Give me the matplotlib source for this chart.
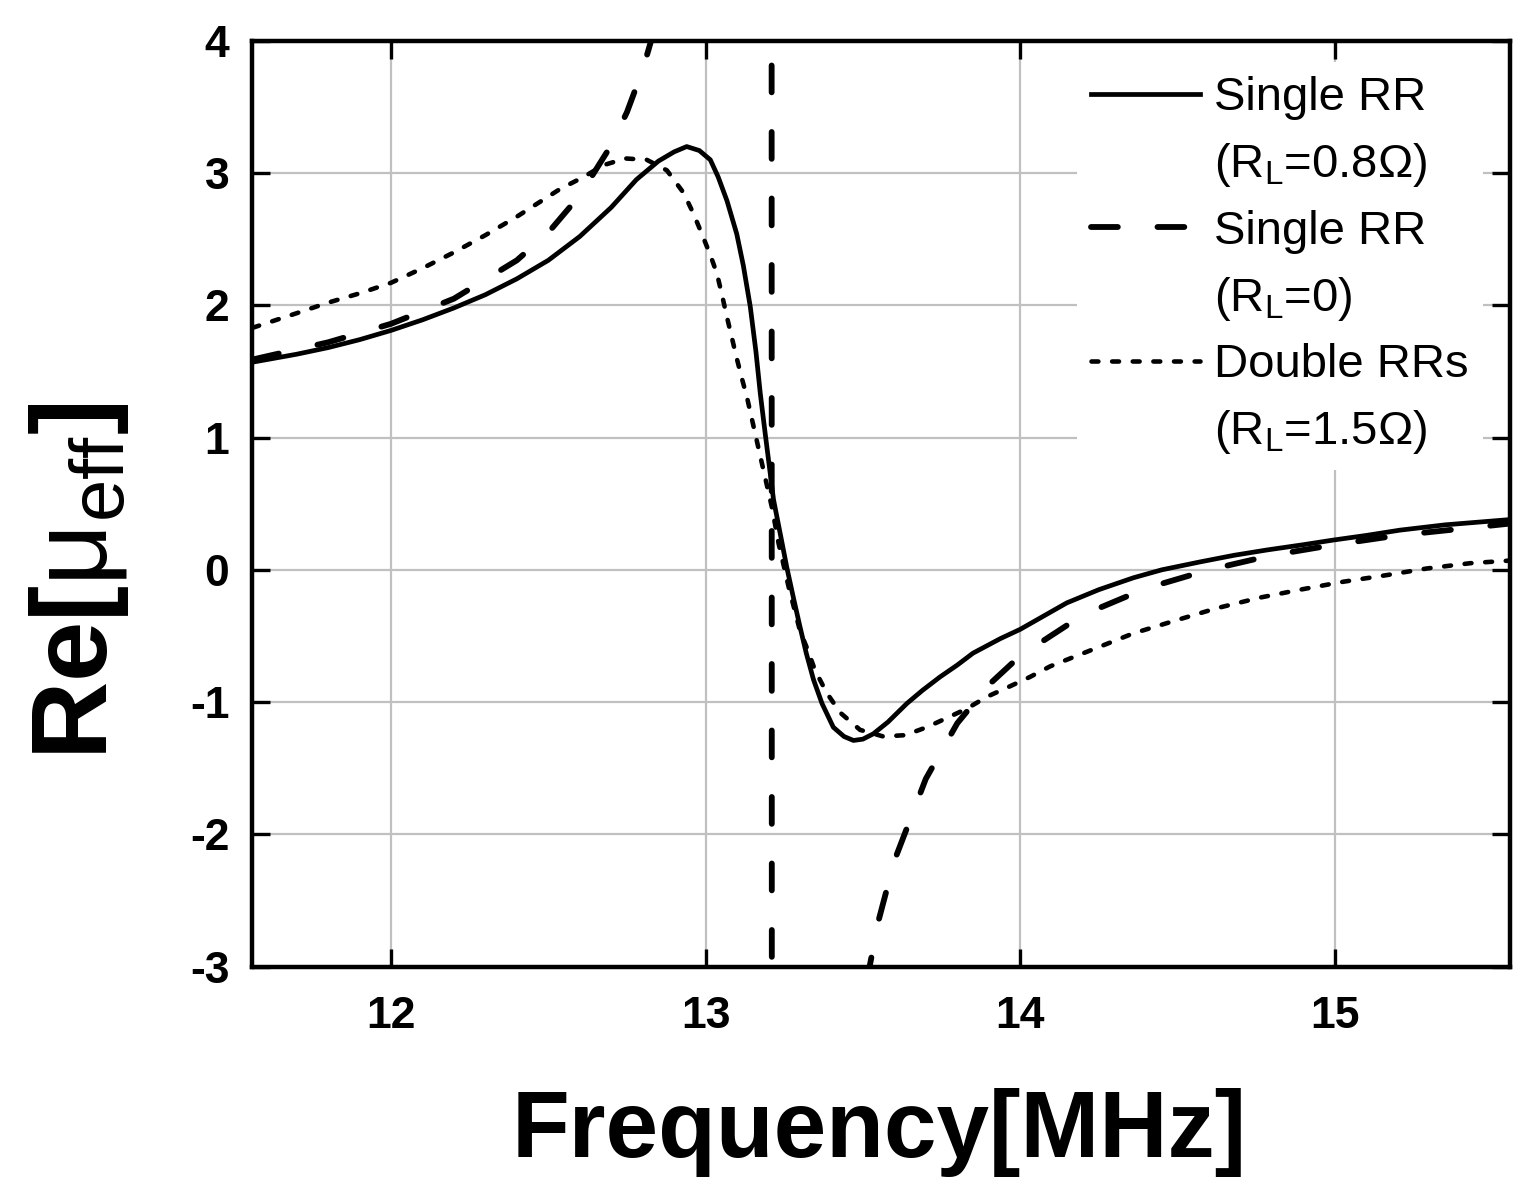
import matplotlib
matplotlib.use("Agg")
import matplotlib.pyplot as plt
from matplotlib.lines import Line2D

plt.rcParams['font.family'] = ['Liberation Sans', 'DejaVu Sans']
plt.rcParams['mathtext.fontset'] = 'custom'
plt.rcParams['mathtext.rm'] = 'Liberation Sans'
plt.rcParams['mathtext.it'] = 'Liberation Sans:italic'
plt.rcParams['mathtext.bf'] = 'Liberation Sans:bold'
plt.rcParams['axes.unicode_minus'] = False

# ---- data ----
f_single = [11.56, 11.7, 11.8, 11.9, 12.0, 12.1, 12.2, 12.3, 12.4, 12.5, 12.6, 12.7,
            12.78, 12.85, 12.9, 12.94, 12.98, 13.015, 13.04, 13.068, 13.099, 13.12,
            13.142, 13.16, 13.174, 13.19, 13.216, 13.24, 13.258, 13.28, 13.30, 13.32,
            13.343, 13.37, 13.406, 13.44, 13.47, 13.50, 13.533, 13.58, 13.64, 13.69,
            13.745, 13.80, 13.85, 13.937, 14.0, 14.148, 14.25, 14.36, 14.45, 14.572,
            14.68, 14.784, 14.9, 14.995, 15.1, 15.207, 15.35, 15.557]
mu_single = [1.57, 1.63, 1.68, 1.74, 1.81, 1.89, 1.98, 2.08, 2.20, 2.34, 2.52, 2.74,
             2.95, 3.09, 3.16, 3.20, 3.17, 3.10, 2.97, 2.79, 2.54, 2.30,
             1.99, 1.65, 1.33, 1.02, 0.53, 0.24, 0.02, -0.22, -0.43, -0.63,
             -0.83, -1.01, -1.19, -1.26, -1.29, -1.28, -1.24, -1.15, -1.01, -0.91,
             -0.81, -0.72, -0.63, -0.52, -0.45, -0.25, -0.15, -0.06, 0.00, 0.06,
             0.11, 0.15, 0.19, 0.225, 0.26, 0.30, 0.34, 0.38]

f_lossless = [11.56, 11.8, 12.0, 12.2, 12.4, 12.5, 12.6, 12.7, 12.75, 12.8, 12.85,
              12.9, 13.0, 13.1, 13.2, 13.22, 13.3, 13.4, 13.5, 13.55, 13.6, 13.7,
              13.8, 13.9, 14.0, 14.2, 14.4, 14.6, 14.8, 15.0, 15.2, 15.4, 15.557]
mu_lossless = [1.59, 1.72, 1.86, 2.05, 2.34, 2.55, 2.83, 3.21, 3.46, 3.78, 4.19,
               4.72, 6.56, 11.75, 122.0, -116.0, -12.4, -5.42, -3.26, -2.65, -2.20, -1.58,
               -1.16, -0.87, -0.65, -0.34, -0.14, 0.00, 0.11, 0.19, 0.26, 0.31, 0.35]

f_double = [11.56, 11.7, 11.8, 11.9, 12.0, 12.1, 12.2, 12.3, 12.4, 12.538, 12.612,
            12.676, 12.745, 12.813, 12.877, 12.93, 12.962, 12.988, 13.015, 13.036,
            13.052, 13.068, 13.084, 13.099, 13.115, 13.131, 13.17, 13.211, 13.232,
            13.265, 13.30, 13.322, 13.348, 13.385, 13.428, 13.491, 13.565, 13.634,
            13.703, 13.767, 13.83, 13.894, 13.968, 14.031, 14.095, 14.169, 14.233,
            14.36, 14.498, 14.625, 14.762, 14.89, 15.027, 15.165, 15.292, 15.43, 15.557]
mu_double = [1.83, 1.94, 2.02, 2.09, 2.17, 2.28, 2.40, 2.53, 2.67, 2.88, 2.97,
             3.06, 3.11, 3.10, 3.02, 2.85, 2.69, 2.54, 2.38, 2.24,
             2.08, 1.91, 1.75, 1.60, 1.45, 1.31, 0.90, 0.47, 0.20,
             -0.14, -0.46, -0.59, -0.76, -0.93, -1.08, -1.21, -1.26, -1.25,
             -1.19, -1.12, -1.05, -0.96, -0.88, -0.81, -0.73, -0.66, -0.60,
             -0.48, -0.38, -0.29, -0.21, -0.15, -0.09, -0.04, 0.01, 0.05, 0.07]

labels = ['Single RR', '(R$_\\mathrm{L}$=0.8Ω)',
          'Single RR', '(R$_\\mathrm{L}$=0)',
          'Double RRs', '(R$_\\mathrm{L}$=1.5Ω)']
x_ticks = [12, 13, 14, 15]
y_ticks = [-3, -2, -1, 0, 1, 2, 3, 4]

# ---- figure ----
fig = plt.figure(figsize=(15.15, 11.81), dpi=100)
ax = fig.add_axes([0.1661, 0.1815, 0.8306, 0.7840])

solid_kw = dict(color='k', lw=3.4, ls='-')
dash_kw = dict(color='k', lw=4.2, dashes=(4.6, 6.8), dash_capstyle='round')
dot_kw = dict(color='k', lw=3.3, dashes=(1.5, 3.0), dash_capstyle='round')

ax.plot(f_single, mu_single, **solid_kw, zorder=3)
ax.plot(f_lossless, mu_lossless, **dash_kw, zorder=3)
ax.plot(f_double, mu_double, **dot_kw, zorder=3)

ax.set_xlim(11.557, 15.557)
ax.set_ylim(-3, 4)
ax.set_xticks(x_ticks)
ax.set_yticks(y_ticks)
ax.grid(True, color='#c0c0c0', lw=1.6, zorder=0)
ax.set_axisbelow(True)

for s in ax.spines.values():
    s.set_linewidth(3.2)
ax.tick_params(direction='in', length=13, width=2.4, top=True, right=True,
               labelsize=32, pad=16)
ax.tick_params(axis='x', pad=21)
for lab in ax.get_xticklabels() + ax.get_yticklabels():
    lab.set_fontweight('bold')

handles = [Line2D([], [], **solid_kw), Line2D([], [], color='none'),
           Line2D([], [], **dash_kw), Line2D([], [], color='none'),
           Line2D([], [], **dot_kw), Line2D([], [], color='none')]
leg = ax.legend(handles, labels, loc='upper left', bbox_to_anchor=(0.6560, 0.9770),
                fontsize=34, frameon=True, facecolor='white', edgecolor='none',
                framealpha=1, fancybox=False, borderpad=0.3, borderaxespad=0,
                handlelength=2.3, handletextpad=0.30, labelspacing=0.44)
leg.set_zorder(4)

fig.text(0.5805, 0.020, 'Frequency[MHz]', fontsize=68, fontweight='bold',
         ha='center', va='baseline')
fig.text(0.052, 0.508, 'Re[$\\mathrm{\\mu}_\\mathrm{eff}$]', fontsize=78,
         fontweight='bold', rotation=90, ha='center', va='center')

fig.savefig('out.png', dpi=100)
